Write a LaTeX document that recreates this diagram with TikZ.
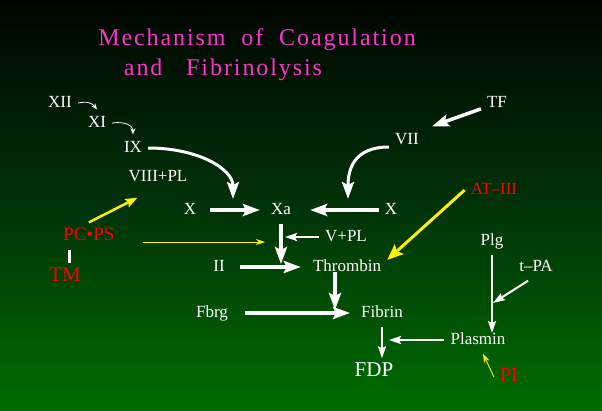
\documentclass[tikz,border=0pt]{standalone}
\usepackage{fontspec}
\setmainfont{Liberation Serif}
\usepackage{tikz}
\usetikzlibrary{arrows.meta,positioning,shadings}
\definecolor{fondoarriba}{RGB}{0,4,0}
\definecolor{fondomedio}{RGB}{0,50,8}
\definecolor{fondoabajo}{RGB}{0,108,0}
\definecolor{rosatitulo}{RGB}{255,51,204}
\tikzstyle{titulo} = [text=rosatitulo, font=\fontsize{24}{28}\selectfont\addfontfeatures{LetterSpace=8}, inner sep=0pt]
\tikzstyle{etiqueta} = [text=white, font=\fontsize{17}{20}\selectfont, inner sep=6pt, text height=12pt, text depth=3pt]
\tikzstyle{etiquetaroja} = [etiqueta, text=red]
\tikzstyle{flechagruesa} = [white, line width=3.5pt, -{Stealth[length=17pt,width=12pt,inset=3pt]}]
\tikzstyle{flechacurva} = [white, line width=3pt, -{Stealth[length=17pt,width=12pt,inset=3pt]}]
\tikzstyle{flechamedia} = [white, line width=2pt, -{Stealth[length=12pt,width=8pt,inset=2pt]}]
\tikzstyle{flechamini} = [white, line width=0.8pt, -{Stealth[length=6pt,width=5pt]}]
\tikzstyle{amarilla} = [yellow, line width=2.5pt, -{Stealth[length=12pt,width=9pt,inset=2pt]}]
\tikzstyle{amarillagruesa} = [yellow, line width=3pt, -{Stealth[length=16pt,width=13pt,inset=3pt]}]
\tikzstyle{amarillafina} = [yellow, line width=0.9pt, -{Stealth[length=9pt,width=6pt]}]

\begin{document}
\begin{tikzpicture}[x=1pt, y=-1pt, node distance=91pt]
	% Fondo
	\shade[top color=fondoarriba, bottom color=fondoabajo, middle color=fondomedio] (0,0) rectangle (602,410);
	% Titulo
	\node (titulo1) [titulo] at (257,40) {Mechanism~~of~~Coagulation};
	\node (titulo2) [titulo] at (223,70) {and~~~Fibrinolysis};
	% Factores
	\node (xii) [etiqueta] at (60,103) {XII};
	\node (xi) [etiqueta] at (97,123) {XI};
	\node (ix) [etiqueta] at (133,148) {IX};
	\node (viii) [etiqueta] at (158,177) {VIII+PL};
	\node (xizq) [etiqueta] at (190,210) {X};
	\node (xa) [etiqueta, right of=xizq] {Xa};
	\node (xder) [etiqueta, right of=xa, xshift=19pt] {X};
	\node (vii) [etiqueta] at (407,140) {VII};
	\node (tf) [etiqueta] at (497,103) {TF};
	\node (atiii) [etiquetaroja] at (494,190) {AT--III};
	\node (pcps) [etiquetaroja, font=\fontsize{19}{22}\selectfont] at (89,236) {PC•PS};
	\node (tm) [etiquetaroja, font=\fontsize{21}{24}\selectfont] at (65,277) {TM};
	\node (vpl) [etiqueta] at (346,237) {V+PL};
	\node (ii) [etiqueta] at (219,267) {II};
	\node (trombina) [etiqueta, right of=ii, xshift=37pt] {Thrombin};
	\node (fbrg) [etiqueta] at (212,313) {Fbrg};
	\node (fibrina) [etiqueta, right of=fbrg, xshift=79pt] {Fibrin};
	\node (fdp) [etiqueta, font=\fontsize{21}{24}\selectfont] at (374,372) {FDP};
	\node (plasmina) [etiqueta] at (478,340) {Plasmin};
	\node (plg) [etiqueta] at (492,241) {Plg};
	\node (tpa) [etiqueta] at (536,267) {t--PA};
	\node (pi) [etiquetaroja, font=\fontsize{20}{23}\selectfont] at (509,377) {PI};
	% Puntos sueltos
	\coordinate (finix) at (233,199);
	\coordinate (finvii) at (348,199);
	\coordinate (finpc) at (265,242);
	\coordinate (fintpa) at (493,303);
	% Flechas
	\draw[flechamini] (xii.east) .. controls +(10,-2) and +(-5,-6) .. (xi.north);
	\draw[flechamini] (xi.east) .. controls +(14,-2) and +(0,-8) .. (ix.north);
	\draw[flechacurva] (ix.east) .. controls +(50,0) and +(0,-30) .. (finix);
	\draw[flechacurva] ([yshift=-7pt]vii.west) .. controls +(-35,0) and +(0,-30) .. (finvii);
	\draw[flechagruesa] (tf.200) -- ([xshift=7pt]vii.north east);
	\draw[flechagruesa, shorten <=8pt, shorten >=5pt] (xizq) -- (xa);
	\draw[flechagruesa, shorten >=13pt] (xder) -- (xa);
	\draw[flechagruesa, shorten >=3pt] (xa) -- (xa.south |- ii);
	\draw[flechamedia, shorten >=4pt] (vpl) -- (xa.south |- vpl);
	\draw[flechagruesa, shorten <=9pt, shorten >=6pt] (ii) -- (trombina);
	\draw[flechagruesa, shorten >=3pt] ([xshift=-12pt]trombina.base) -- ([xshift=-12pt]trombina.base |- fbrg);
	\draw[flechagruesa, shorten <=11pt, shorten >=5pt] (fbrg) -- (fibrina);
	\draw[flechamedia] (fibrina) -- (fibrina.south |- fdp.north);
	\draw[flechamedia, shorten >=7pt] (plasmina) -- (fibrina.south |- plasmina);
	\draw[flechamedia, shorten >=7pt] (plg) -- (plg.south |- plasmina);
	\draw[flechamedia] (tpa.240) -- (fintpa);
	% Inhibidores
	\draw[amarilla] (pcps.north) -- ([xshift=15pt,yshift=-7pt]viii.south west);
	\draw[amarillafina, shorten <=22pt] (pcps.east |- finpc) -- (finpc);
	\draw[amarillagruesa] (atiii.west) -- (trombina.10);
	\draw[amarillafina] (pi.west) -- ([xshift=5pt]plasmina.south);
	\draw[white, line width=3pt] ([xshift=4pt]tm.north) -- ([xshift=4pt]tm.north |- pcps.south);
\end{tikzpicture}
\end{document}
